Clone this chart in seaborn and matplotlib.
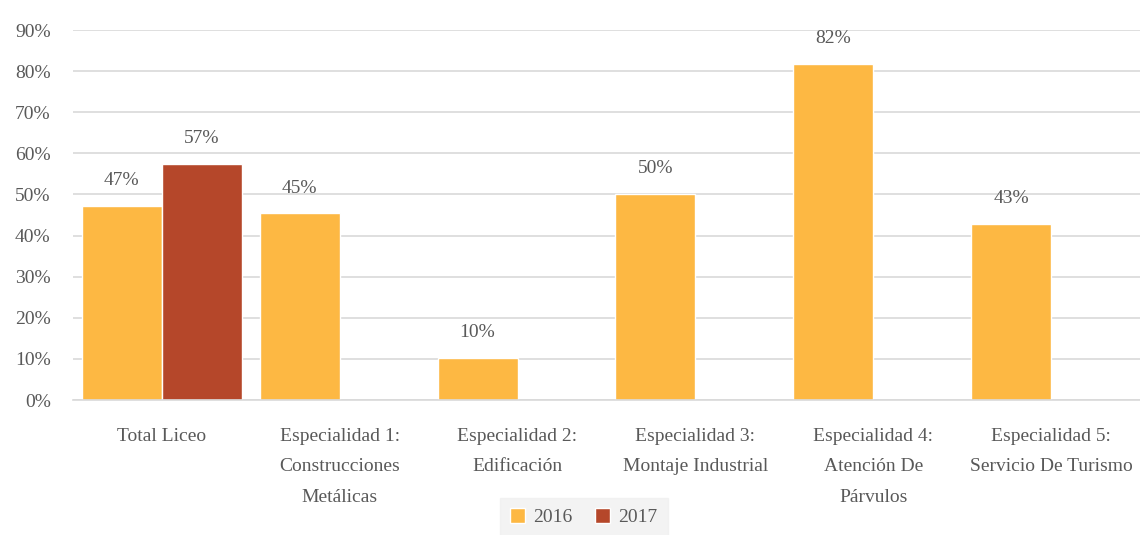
import numpy as np
import pandas as pd
import matplotlib
matplotlib.use("Agg")
import matplotlib.pyplot as plt
import seaborn as sns
from matplotlib.ticker import PercentFormatter
from matplotlib.patches import Patch

categories = ["Total Liceo",
              "Especialidad 1:\nConstrucciones\nMetálicas",
              "Especialidad 2:\nEdificación",
              "Especialidad 3:\nMontaje Industrial",
              "Especialidad 4:\nAtención De\nPárvulos",
              "Especialidad 5:\nServicio De Turismo"]
values_2016 = [0.472, 0.454, 0.102, 0.501, 0.817, 0.428]
values_2017 = [0.574, np.nan, np.nan, np.nan, np.nan, np.nan]
years = ["2016", "2017"]
colors = ["#FDB843", "#B5472A"]

df = pd.DataFrame({
    "cat": categories * 2,
    "year": [years[0]] * len(categories) + [years[1]] * len(categories),
    "val": values_2016 + values_2017,
})

sns.set_theme(style="white")
plt.rcParams['font.family'] = ['Liberation Serif', 'DejaVu Serif']

fig = plt.figure(figsize=(11.4, 5.35), dpi=100)
ax = fig.add_axes([0.064, 0.2523, 0.936, 0.6916])

sns.barplot(data=df, x="cat", y="val", hue="year", order=categories,
            hue_order=years, palette=colors, width=0.9, saturation=1,
            ax=ax, legend=False, errorbar=None)

ax.set_ylim(0, 0.9)
ax.set_yticks(np.arange(0, 0.91, 0.1))
ax.yaxis.set_major_formatter(PercentFormatter(1.0, decimals=0))
ax.set_xlabel("")
ax.set_ylabel("")
ax.grid(axis="y", color="#D9D9D9", linewidth=1.2)
ax.set_axisbelow(True)
for s in ["top", "right", "left"]:
    ax.spines[s].set_visible(False)
ax.spines["bottom"].set_color("#D9D9D9")
ax.spines["bottom"].set_linewidth(1.2)
ax.tick_params(axis="both", length=0, colors="#595959", labelsize=14)
ax.tick_params(axis="x", pad=20)
ax.tick_params(axis="y", pad=16)
for lbl in ax.get_xticklabels():
    lbl.set_linespacing(2.05)
    lbl.set_ha("center")

for cont in ax.containers:
    labels = []
    for bar in cont:
        h = bar.get_height()
        labels.append("" if np.isnan(h) else f"{round(h*100):.0f}%")
    ax.bar_label(cont, labels=labels, padding=12, color="#595959", fontsize=14)

handles = [Patch(facecolor=c, label=y) for c, y in zip(colors, years)]
leg = fig.legend(handles=handles, loc="lower center", bbox_to_anchor=(0.512, -0.022),
                 ncol=2, frameon=True, fontsize=14, handlelength=0.75,
                 handleheight=0.75, handletextpad=0.4, columnspacing=1.2,
                 borderpad=0.55, fancybox=False)
leg.get_frame().set_facecolor("#F0F0F0")
leg.get_frame().set_edgecolor("#F0F0F0")
for t in leg.get_texts():
    t.set_color("#595959")

fig.savefig("out.png", dpi=100)
